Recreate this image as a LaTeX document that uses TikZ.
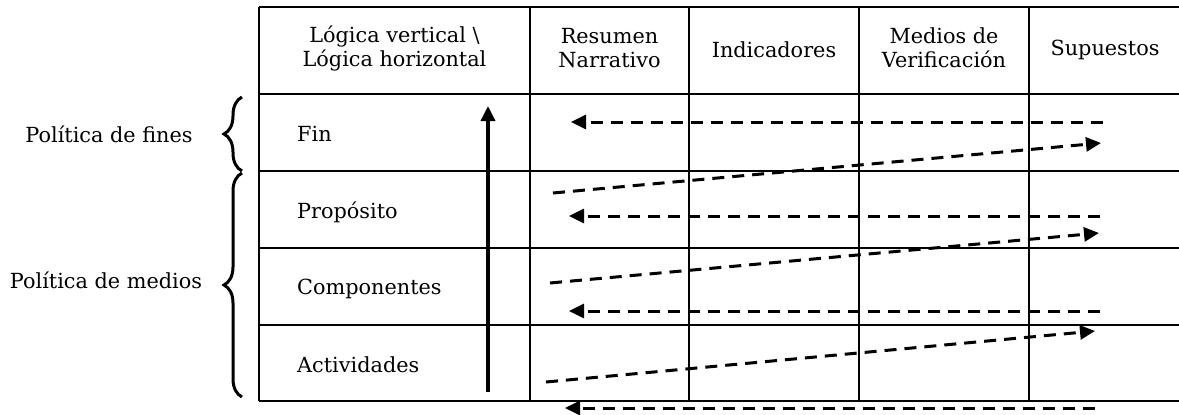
\documentclass[tikz,border=0pt]{standalone}
\usepackage{fontspec}
\setmainfont{DejaVu Serif}
\usetikzlibrary{arrows.meta,decorations.pathreplacing}
\begin{document}
\begin{tikzpicture}[x=1pt,y=-1pt,
  tbl/.style={line width=2.6pt},
  txt/.style={font=\fontsize{20.8}{24}\selectfont, inner sep=0pt, align=center},
  rowlbl/.style={font=\fontsize{20.8}{24}\selectfont, inner sep=0pt, anchor=west},
  dasharrow/.style={line width=3pt, dash pattern=on 12pt off 8pt, -{Triangle[length=15pt,width=14pt]}},
  solidarrow/.style={line width=3.5pt, -{Triangle[length=15pt,width=14pt]}},
  bracestyle/.style={line width=3pt, decorate, decoration={brace, amplitude=18pt}}
]
\useasboundingbox (0,0) rectangle (1179,415);
\fill[white] (0,0) rectangle (1179,415);
% table
\draw[tbl] (259,7) -- (1182,7);
\draw[tbl] (259,94) -- (1182,94);
\draw[tbl] (259,171) -- (1182,171);
\draw[tbl] (259,248) -- (1182,248);
\draw[tbl] (259,325) -- (1182,325);
\draw[tbl] (259,401) -- (1182,401);
\draw[tbl] (259,7) -- (259,401);
\draw[tbl] (530,7) -- (530,401);
\draw[tbl] (689,7) -- (689,401);
\draw[tbl] (859,7) -- (859,401);
\draw[tbl] (1029,7) -- (1029,401);
\draw[tbl] (1182,7) -- (1182,401);
% header
\node[txt] (h0) at (394.5,48) {Lógica vertical \textbackslash\\Lógica horizontal};
\node[txt] (h1) at (609.5,48) {Resumen\\Narrativo};
\node[txt] (h2) at (774,50) {Indicadores};
\node[txt] (h3) at (944,48) {Medios de\\Verificación};
\node[txt] (h4) at (1105,50) {Supuestos};
% row labels
\node[rowlbl] (r1) at (297,134) {Fin};
\node[rowlbl] (r2) at (297,212) {Propósito};
\node[rowlbl] (r3) at (297,289) {Componentes};
\node[rowlbl] (r4) at (297,365) {Actividades};
% braces and labels
\coordinate (b1a) at (242,171);
\coordinate (b1b) at (242,97);
\coordinate (b2a) at (242,397);
\coordinate (b2b) at (242,173);
\draw[bracestyle] (b1a) -- (b1b);
\draw[bracestyle] (b2a) -- (b2b);
\node[txt] (pf) at (109,134) {Política de fines};
\node[txt] (pm) at (106,280) {Política de medios};
% vertical logic arrow
\coordinate (va) at (488,392);
\coordinate (vb) at (488,106);
\draw[solidarrow] (va) -- (vb);
% horizontal logic arrows
\coordinate (l1a) at (1103,122); \coordinate (l1b) at (571,122);
\coordinate (d1a) at (553,193);  \coordinate (d1b) at (1101,143);
\coordinate (l2a) at (1100,216); \coordinate (l2b) at (569,216);
\coordinate (d2a) at (550,283);  \coordinate (d2b) at (1099,233);
\coordinate (l3a) at (1100,311); \coordinate (l3b) at (569,311);
\coordinate (d3a) at (546,382);  \coordinate (d3b) at (1095,331);
\coordinate (l4a) at (1095,408); \coordinate (l4b) at (565,408);
\draw[dasharrow] (l1a) -- (l1b);
\draw[dasharrow] (d1a) -- (d1b);
\draw[dasharrow] (l2a) -- (l2b);
\draw[dasharrow] (d2a) -- (d2b);
\draw[dasharrow] (l3a) -- (l3b);
\draw[dasharrow] (d3a) -- (d3b);
\draw[dasharrow] (l4a) -- (l4b);
\end{tikzpicture}
\end{document}
